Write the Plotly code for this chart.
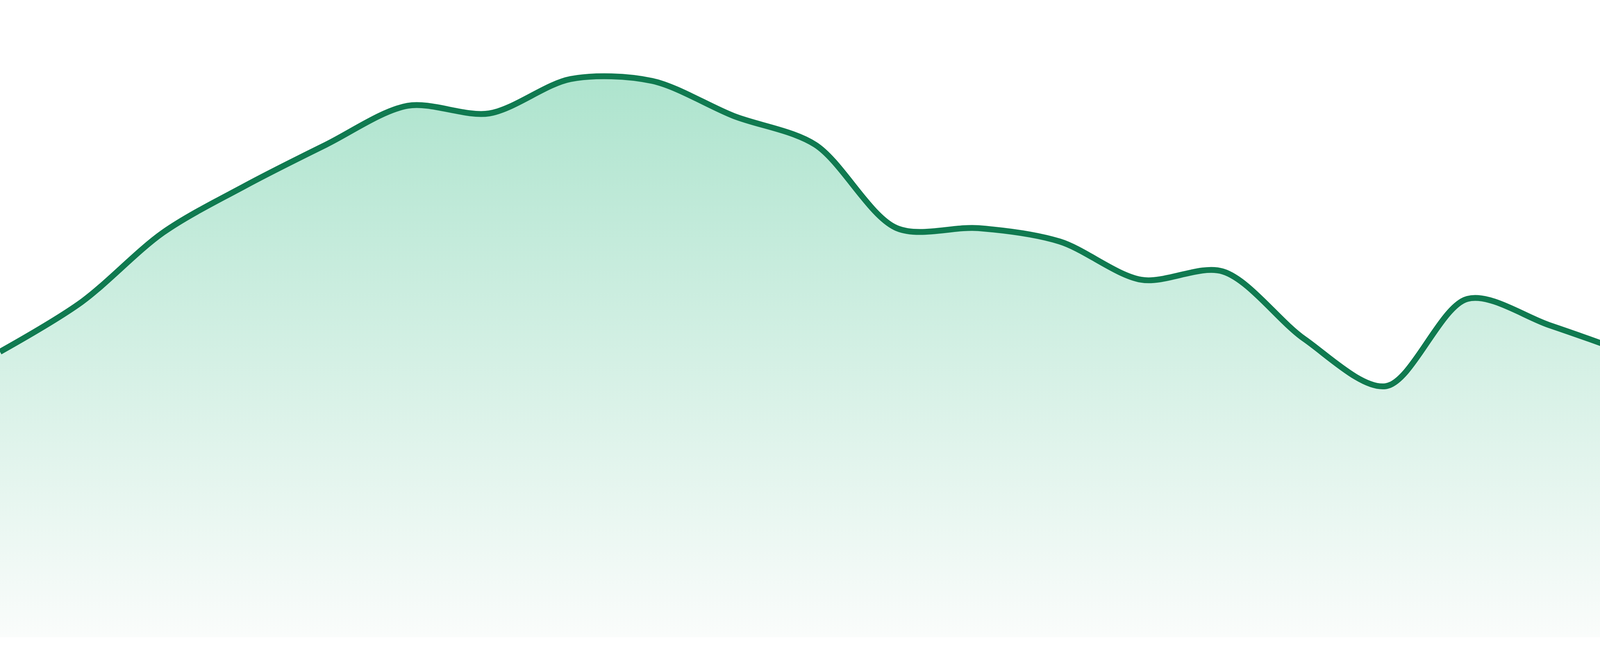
import plotly.graph_objs as go

# 24 evenly spaced samples, left edge to right edge
days = list(range(24))
values = [44.8, 52.6, 63.5, 70.8, 77.3, 83.4, 82.2, 87.6, 87.3, 81.8, 77.3, 64.2,
          64.2, 62.1, 56.1, 57.4, 46.8, 39.4, 53.1, 49.0, 44.4, 39.0, 50.1, 45.5]

y_max = 100

line_color = "#107a50"
fill_top = "rgb(174,228,206)"
fill_bottom = "rgb(250,252,251)"


def main():
    trace = go.Scatter(
        x=days, y=values, mode="lines",
        line=dict(color=line_color, width=15, shape="spline", smoothing=0.9),
        fill="tozeroy",
        fillgradient=dict(type="vertical", start=0, stop=max(values),
                          colorscale=[[0, fill_bottom], [1, fill_top]]),
        hoverinfo="skip",
    )
    layout = go.Layout(
        width=4800, height=1680,
        margin=dict(l=0, r=0, t=0, b=48),
        paper_bgcolor="white", plot_bgcolor="white",
        showlegend=False,
        xaxis=dict(range=[days[0], days[-1]], visible=False, fixedrange=True),
        yaxis=dict(range=[0, y_max], visible=False, fixedrange=True),
    )
    fig = go.Figure(data=[trace], layout=layout)
    # drop the default page margin so the chart sits flush in the window
    fig.write_html("out.html", config={"displayModeBar": False},
                   post_script="document.body.style.margin='0';document.body.style.overflow='hidden';")


if __name__ == '__main__':
    main()
